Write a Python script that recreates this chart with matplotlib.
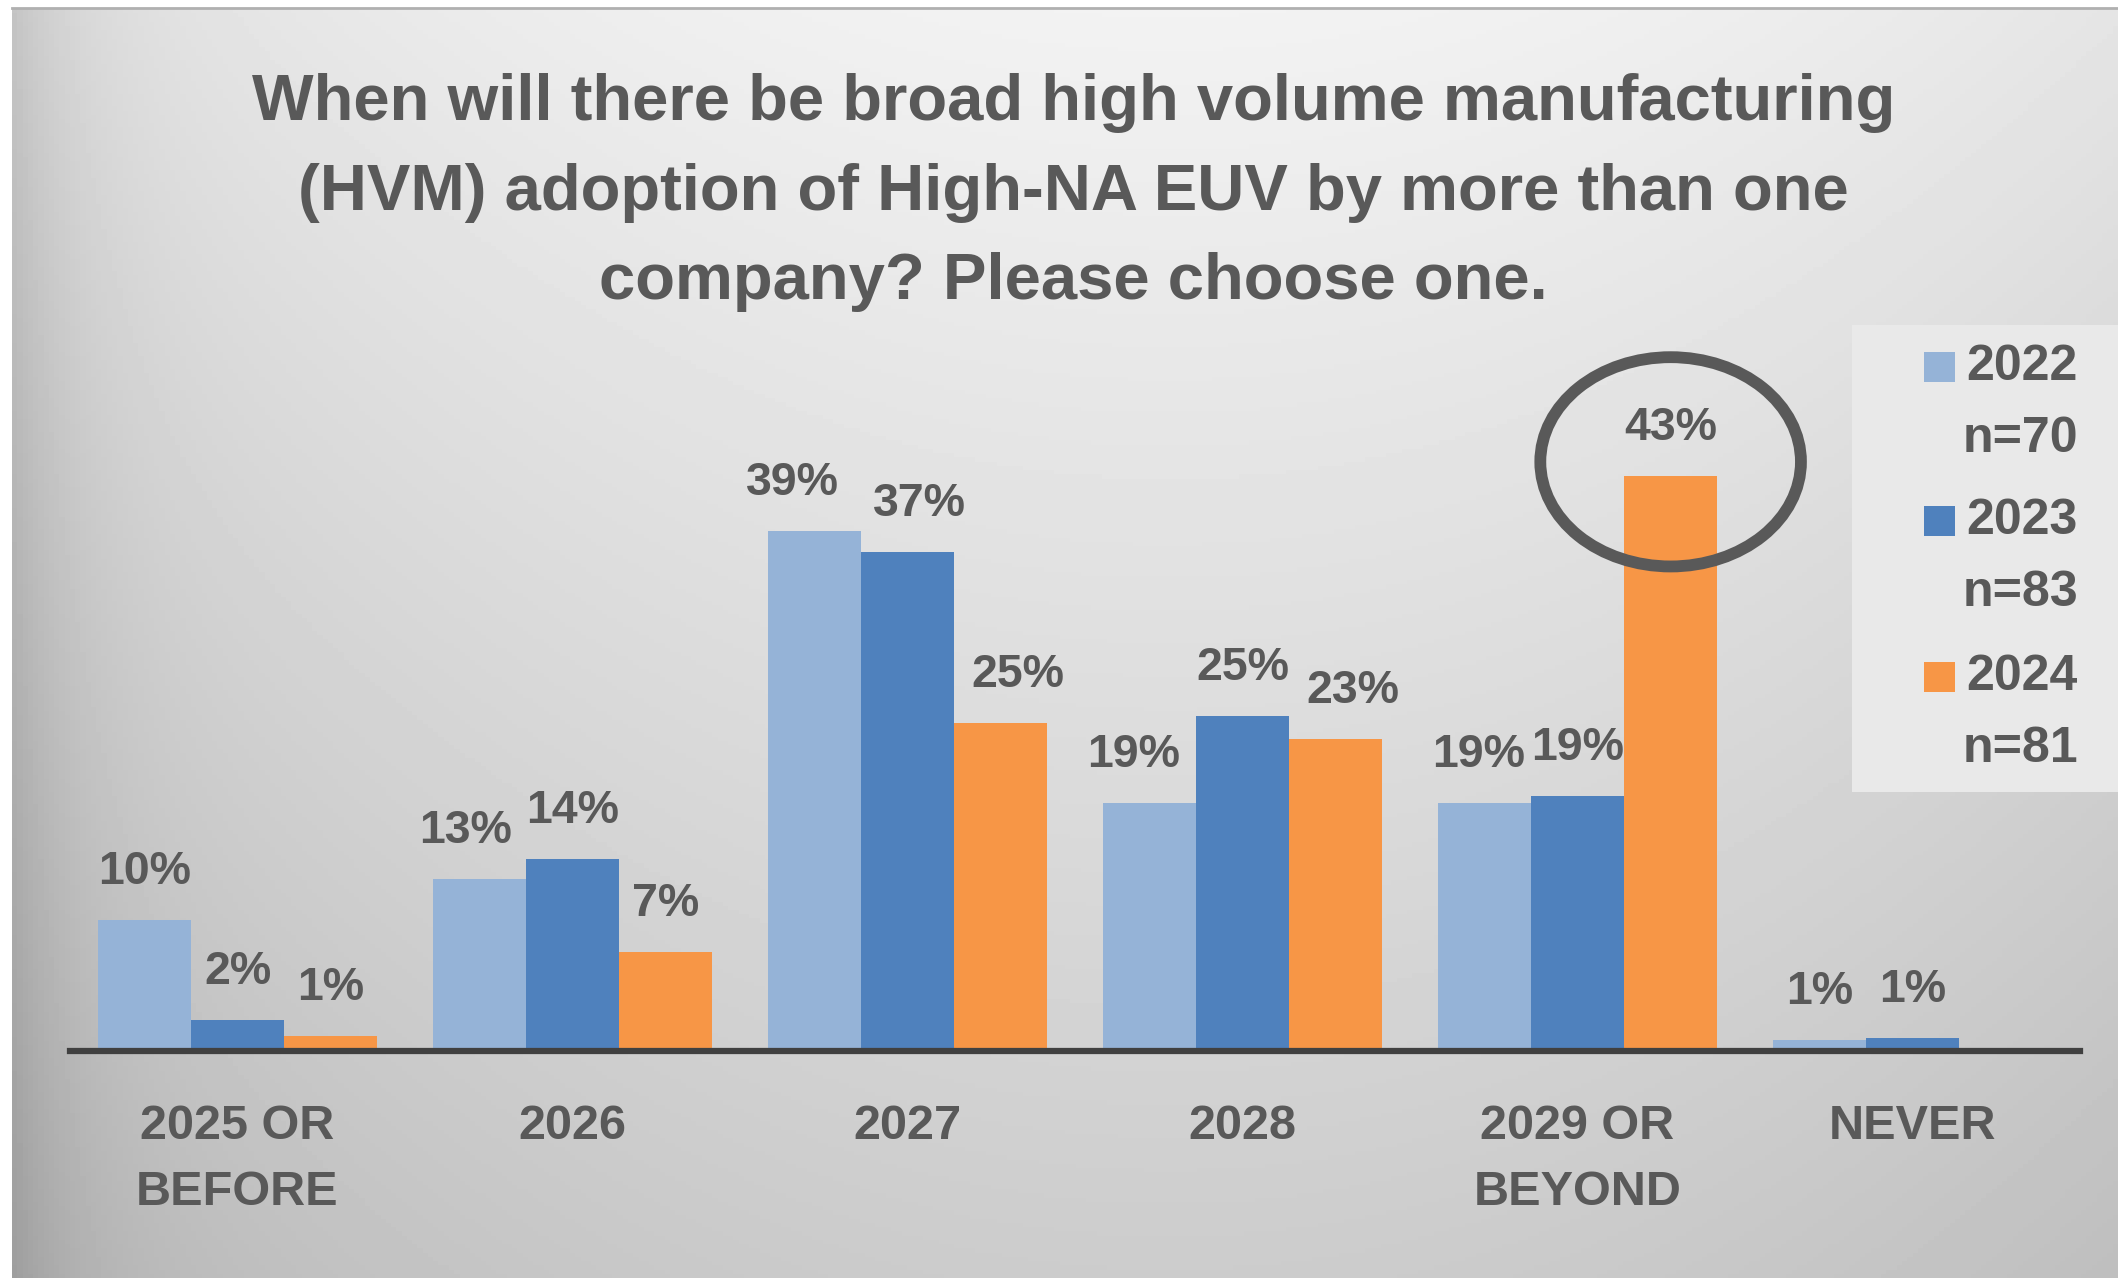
import numpy as np
import matplotlib.pyplot as plt
from matplotlib.patches import Ellipse, Rectangle

plt.rcParams['font.family'] = ['Liberation Sans', 'DejaVu Sans']
plt.rcParams['font.weight'] = 'bold'

TXT = "#595959"

categories = ["2025 OR\nBEFORE", "2026", "2027", "2028", "2029 OR\nBEYOND", "NEVER"]
series_names = ["2022", "2023", "2024"]
sample_sizes = ["n=70", "n=83", "n=81"]
colors = ["#95b3d7", "#4f81bd", "#f79646"]

vals_2022 = [9.8, 12.9, 39.0, 18.6, 18.6, 0.8]
vals_2023 = [2.3, 14.4, 37.4, 25.1, 19.1, 1.0]
vals_2024 = [1.1, 7.4, 24.6, 23.4, 43.1, 0.0]
series = [vals_2022, vals_2023, vals_2024]

# small sideways nudges of the value labels, as in the original slide
label_nudge = {(0, 1): -0.04, (0, 2): -0.065, (1, 2): 0.036, (2, 2): 0.052,
               (0, 3): -0.048, (2, 3): 0.052, (0, 4): -0.016}

title = ("When will there be broad high volume manufacturing\n"
         "(HVM) adoption of High-NA EUV by more than one\n"
         "company? Please choose one.")

fig = plt.figure(figsize=(21.18, 12.78), dpi=100)
fig.patch.set_facecolor("white")

# gradient backdrop
bg = fig.add_axes([12 / 2118, 0, 1 - 12 / 2118, 1 - 9 / 1278])
gx = np.linspace(0, 1, 400)
gy = np.linspace(0, 1, 300)
X, Y = np.meshgrid(gx, gy)
shade = 0.95 - 0.15 * Y - 0.08 * ((X - 0.55) / 0.55) ** 2
shade -= 0.10 * np.exp(-X / 0.03)
bg.imshow(shade, cmap="gray", vmin=0, vmax=1, aspect="auto", extent=[0, 1, 1, 0])
bg.set_axis_off()
fig.add_artist(plt.Line2D([12 / 2118, 1], [1 - 8 / 1278, 1 - 8 / 1278], color="#b0b0b0", lw=2))

ax = fig.add_axes([70 / 2118, 1 - 1051 / 1278, 2010 / 2118, (1051 - 384.5) / 1278])
ax.set_facecolor("none")
x = np.arange(len(categories))
w = 0.278
for i, (vals, c) in enumerate(zip(series, colors)):
    pos = x + (i - 1) * w
    ax.bar(pos, vals, width=w, color=c, zorder=2)
    for j, (px, v) in enumerate(zip(pos, vals)):
        if v > 0:
            ax.text(px + label_nudge.get((i, j), 0), v + 2.7, f"{round(v)}%",
                    ha="center", va="baseline", fontsize=33.5, color=TXT, clip_on=False)

ax.set_xlim(-0.5, 5.5)
ax.set_ylim(0, 50)
for s in ["top", "right", "left"]:
    ax.spines[s].set_visible(False)
ax.spines["bottom"].set_color("#404040")
ax.spines["bottom"].set_linewidth(4.5)
ax.set_yticks([])
ax.set_xticks(x)
ax.set_xticklabels(categories, fontsize=35, color=TXT, linespacing=1.62)
ax.tick_params(axis="x", length=0, pad=38)

# highlight ring around the 43% bar
ax.add_patch(Ellipse((4 + w, 44.2), 0.778, 15.7, fill=False, ec="#595959",
                     lw=8.5, clip_on=False, zorder=5))

fig.text(0.507, 1 - 73 / 1278, title, ha="center", va="top", fontsize=47,
         color=TXT, linespacing=1.63)

# legend panel
fig.add_artist(Rectangle((1852 / 2118, 1 - 792 / 1278), 266 / 2118, 467 / 1278,
                         transform=fig.transFigure, fc="#e9e9e9", ec="none"))
rows = [367, 521, 677]
for name, n, c, yc in zip(series_names, sample_sizes, colors, rows):
    fig.add_artist(Rectangle((1924 / 2118, 1 - (yc + 15) / 1278), 31 / 2118, 30 / 1278,
                             transform=fig.transFigure, fc=c, ec="none"))
    fig.text(2078 / 2118, 1 - yc / 1278, name, ha="right", va="center",
             fontsize=36, color=TXT)
    fig.text(2078 / 2118, 1 - (yc + 72) / 1278, n, ha="right", va="center",
             fontsize=36, color=TXT)

fig.savefig("out.png", dpi=100)
